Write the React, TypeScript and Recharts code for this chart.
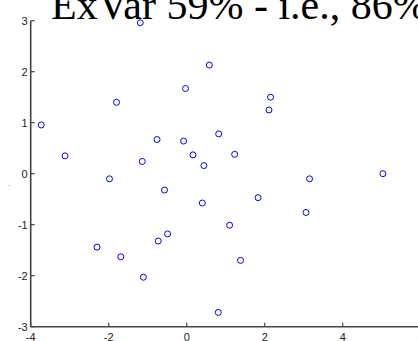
import { ScatterChart, Scatter, XAxis, YAxis } from "recharts";

// scores on the first two components
const PC1 = [
  -1.19, 0.58, -0.03, -1.8, 2.15, 2.11, -3.73, 0.82, -0.76, -0.08,
  1.23, -3.12, 0.16, -1.14, 0.44, -1.98, 3.15, 5.03, -0.57, 1.83,
  0.4, 3.06, 1.1, -0.49, -0.73, -2.3, -1.69, 1.38, -1.11, 0.81,
];
const PC2 = [
  2.96, 2.13, 1.67, 1.4, 1.5, 1.25, 0.955, 0.78, 0.67, 0.64,
  0.38, 0.35, 0.37, 0.24, 0.16, -0.1, -0.1, 0.0, -0.32, -0.47,
  -0.575, -0.76, -1.01, -1.18, -1.32, -1.44, -1.63, -1.7, -2.03, -2.72,
];
const X_TICKS = [-4, -2, 0, 2, 4, 6];
const Y_TICKS = [-3, -2, -1, 0, 1, 2, 3];
const TITLE = "ExVar 59% - i.e., 86%";

const points = PC1.map((x, i) => ({ x, y: PC2[i] }));

const AXIS = "#444";
const TICK_FONT = "'Liberation Sans', Arial, sans-serif";

// matlab-style ticks pointing into the plot
function YTick(props: any) {
  const { x, y, payload } = props;
  return (
    <g>
      <line x1={x} x2={x + 4} y1={y} y2={y} stroke={AXIS} strokeWidth={1.2} />
      <text x={x - 3} y={y + 4} textAnchor="end" fontSize={11} fontFamily={TICK_FONT} fill="#222">
        {payload.value}
      </text>
    </g>
  );
}

function XTick(props: any) {
  const { x, y, payload } = props;
  return (
    <g>
      <line x1={x} x2={x} y1={y} y2={y - 4} stroke={AXIS} strokeWidth={1.2} />
      <text x={x} y={y + 14} textAnchor="middle" fontSize={11} fontFamily={TICK_FONT} fill="#222">
        {payload.value}
      </text>
    </g>
  );
}

function Ring(props: any) {
  const { cx, cy } = props;
  return <circle cx={cx} cy={cy} r={3} fill="none" stroke="#0000ff" strokeWidth={1} />;
}

export default function App() {
  return (
    <div
      style={{
        position: "absolute",
        left: 0,
        top: 0,
        width: 418,
        height: 341,
        overflow: "hidden",
        background: "#fff",
      }}
    >
      <ScatterChart
        width={440}
        height={360}
        margin={{ top: 20.7, right: 19.3, bottom: 13.3, left: 0 }}
      >
        <XAxis
          type="number"
          dataKey="x"
          domain={[-4, 6]}
          ticks={X_TICKS}
          height={20}
          tickSize={0}
          tickMargin={0}
          axisLine={{ stroke: AXIS, strokeWidth: 1.6 }}
          tickLine={false}
          tick={<XTick />}
          interval={0}
        />
        <YAxis
          type="number"
          dataKey="y"
          domain={[-3, 3]}
          ticks={Y_TICKS}
          width={30.7}
          tickSize={0}
          tickMargin={0}
          axisLine={{ stroke: AXIS, strokeWidth: 1.6 }}
          tickLine={false}
          tick={<YTick />}
          interval={0}
        />
        <Scatter data={points} shape={<Ring />} isAnimationActive={false} />
      </ScatterChart>
      <svg
        width={418}
        height={341}
        style={{ position: "absolute", left: 0, top: 0, pointerEvents: "none" }}
      >
        <text x={51} y={18.5} fontSize={42} fontFamily="'Liberation Serif', 'Times New Roman', serif" fill="#000">
          {TITLE}
        </text>
        <text x={8} y={190} fontSize={7} fontFamily={TICK_FONT} fill="#444">
          `
        </text>
      </svg>
    </div>
  );
}
